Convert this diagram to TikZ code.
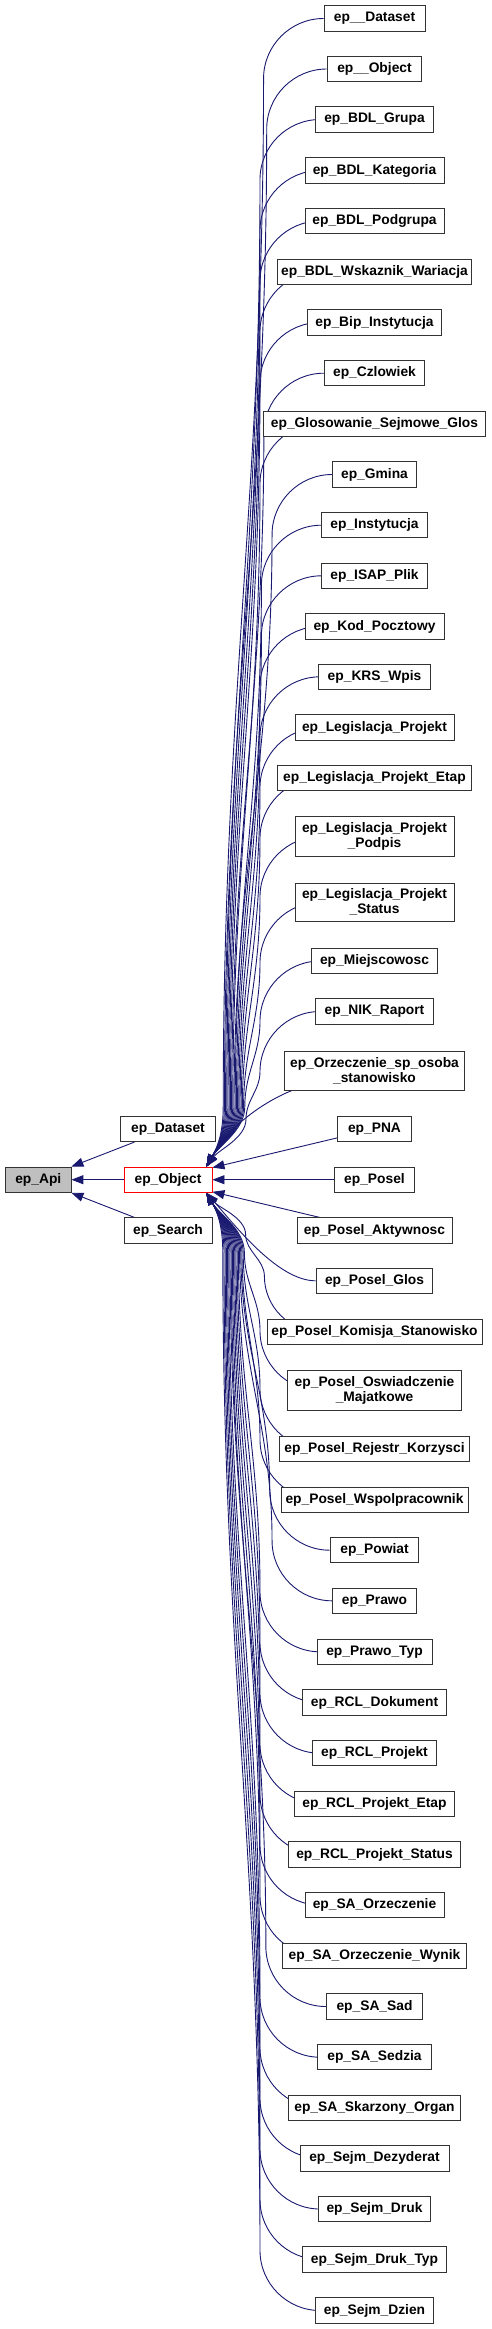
\documentclass[tikz,border=0pt]{standalone}
\usepackage{fontspec}
\setmainfont{Liberation Sans}
\usetikzlibrary{arrows.meta, calc, backgrounds}
\definecolor{edgeblue}{HTML}{191970}
\definecolor{apigray}{HTML}{BFBFBF}

\begin{document}
\begin{tikzpicture}[
  x=1pt, y=1pt,
  cls/.style={rectangle, draw=black!80, line width=0.9pt, fill=white,
              inner xsep=2pt, inner ysep=6pt, minimum height=25.3pt,
              align=center, font=\bfseries\fontsize{13.8pt}{15pt}\selectfont},
  root/.style={cls, fill=apigray},
  self/.style={cls, draw=red},
  arr/.style={-{Triangle[length=12pt, width=9pt]}, draw=edgeblue, line width=0.9pt}
]
\useasboundingbox (0,0) rectangle (491,-2329);
%% base classes (left part)
\node[root, minimum width=65.3] (api)     at (38.3,-1179.7) {ep\_Api};
\node[cls,  minimum width=94.3] (dataset) at (168,-1129)    {ep\_Dataset};
\node[self, minimum width=88]   (obj)     at (168,-1179.7)  {ep\_Object};
\node[cls,  minimum width=88]   (search)  at (168,-1230.5)  {ep\_Search};
%% children of ep_Object, upper fan
\foreach \lbl/\yy/\ww [count=\i] in {
    ep\_\_Dataset/18.5/101, ep\_\_Object/69/94.7, ep\_BDL\_Grupa/119.5/117.3,
    ep\_BDL\_Kategoria/170.5/139, ep\_BDL\_Podgrupa/221/139,
    ep\_BDL\_Wskaznik\_Wariacja/271.8/194.7, ep\_Bip\_Instytucja/322.5/133.3,
    ep\_Czlowiek/373.2/100.4, ep\_Glosowanie\_Sejmowe\_Glos/423.7/221.6,
    ep\_Gmina/474.5/84, ep\_Instytucja/525.2/105.3, ep\_ISAP\_Plik/575.8/105.3,
    ep\_Kod\_Pocztowy/626.5/139, ep\_KRS\_Wpis/676.8/112.4,
    ep\_Legislacja\_Projekt/727.5/159, ep\_Legislacja\_Projekt\_Etap/778.2/194.7,
    {ep\_Legislacja\_Projekt\\\_Podpis}/836.7/159,
    {ep\_Legislacja\_Projekt\\\_Status}/902.3/159,
    ep\_Miejscowosc/961/126.7, ep\_NIK\_Raport/1011.5/117.6,
    {ep\_Orzeczenie\_sp\_osoba\\\_stanowisko}/1070.7/180}
  \node[cls, minimum width=\ww] (u\i) at (374.5,-\yy) {\lbl};
%% straight neighbours
\node[cls, minimum width=73.3] (pna)       at (374.5,-1129)   {ep\_PNA};
\node[cls, minimum width=80.3] (posel)     at (374.5,-1179.7) {ep\_Posel};
\node[cls, minimum width=155]  (aktywnosc) at (374.5,-1230.5) {ep\_Posel\_Aktywnosc};
%% children of ep_Object, lower fan
\foreach \lbl/\yy/\ww [count=\i] in {
    ep\_Posel\_Glos/1280.8/116.7, ep\_Posel\_Komisja\_Stanowisko/1331.8/215,
    {ep\_Posel\_Oswiadczenie\\\_Majatkowe}/1390.7/174,
    ep\_Posel\_Rejestr\_Korzysci/1449.2/190.7,
    ep\_Posel\_Wspolpracownik/1499.8/187,
    ep\_Powiat/1550.2/88.7, ep\_Prawo/1600.8/84, ep\_Prawo\_Typ/1651.8/115,
    ep\_RCL\_Dokument/1702.5/143.3, ep\_RCL\_Projekt/1753.2/124.4,
    ep\_RCL\_Projekt\_Etap/1803.8/160.4, ep\_RCL\_Projekt\_Status/1854.5/172.4,
    ep\_SA\_Orzeczenie/1905/139, ep\_SA\_Orzeczenie\_Wynik/1955.8/183.3,
    ep\_SA\_Sad/2006.5/96.4, ep\_SA\_Sedzia/2057.2/114,
    ep\_SA\_Skarzony\_Organ/2107.8/171.3,
    ep\_Sejm\_Dezyderat/2158.3/149, ep\_Sejm\_Druk/2209/112.4,
    ep\_Sejm\_Druk\_Typ/2259.5/143.6, ep\_Sejm\_Dzien/2310.5/118.3}
  \node[cls, minimum width=\ww] (l\i) at (374.5,-\yy) {\lbl};
%% arrows (behind the boxes)
\begin{pgfonlayer}{background}
\draw[arr] (dataset) -- (api.north east);
\draw[arr] (obj)     -- (api);
\draw[arr] (search)  -- (api.south east);
\draw[arr] (pna)       -- ($(obj.north east)+(0,-1)$);
\draw[arr] (posel)     -- (obj);
\draw[arr] (aktywnosc) -- ($(obj.south east)+(0,1)$);
%% the two closest fan members
\draw[arr] ($(u21.south west)+(8,0)$)
    .. controls +(-28,-11) and +(22,40) .. ($(obj.north east)+(-6,0)$);
\draw[arr] (l1.west)
    .. controls +(-38,0) and +(28,-32) .. ($(obj.south east)+(-6,0)$);
%% fans: bend at the child, bundle, then into ep_Object
\foreach \i in {1,...,20}
  \draw[arr] let \p1=(u\i.west), \p2=($(obj.north east)+(-6,0)$),
                 \n1={max(\x1,320pt)}, \n2={min(60pt,(\y1-\y2)/2.5)},
                 \n3={\y1-\n2}, \n4={\y2+min(60pt,0.5*(\n3-\y2))},
                 \n5={222pt+1.2pt*\i}, \n6={0.4*(\n3-\n4)} in
    (\n1,\y1) .. controls ({\n1-0.55*\n2},\y1) and ({\n1-\n2},{\y1-0.45*\n2})
    .. ({\n1-\n2},\n3)
    .. controls ({\n1-\n2},{\n3-\n6}) and (\n5,{\n4+\n6}) .. (\n5,\n4)
    .. controls (\n5,{\n4-0.4*(\n4-\y2)}) and ({\x2+12pt},{\y2+0.35*(\n4-\y2)})
    .. (\x2,\y2);
\foreach \i in {2,...,21}
  \draw[arr] let \p1=(l\i.west), \p2=($(obj.south east)+(-6,0)$),
                 \n1={max(\x1,320pt)}, \n2={min(60pt,(\y2-\y1)/2.5)},
                 \n3={\y1+\n2}, \n4={\y2-min(60pt,0.5*(\y2-\n3))},
                 \n5={248pt-1.2pt*\i}, \n6={0.4*(\n4-\n3)} in
    (\n1,\y1) .. controls ({\n1-0.55*\n2},\y1) and ({\n1-\n2},{\y1+0.45*\n2})
    .. ({\n1-\n2},\n3)
    .. controls ({\n1-\n2},{\n3+\n6}) and (\n5,{\n4-\n6}) .. (\n5,\n4)
    .. controls (\n5,{\n4+0.4*(\y2-\n4)}) and ({\x2+12pt},{\y2-0.35*(\y2-\n4)})
    .. (\x2,\y2);
\end{pgfonlayer}
\end{tikzpicture}
\end{document}
